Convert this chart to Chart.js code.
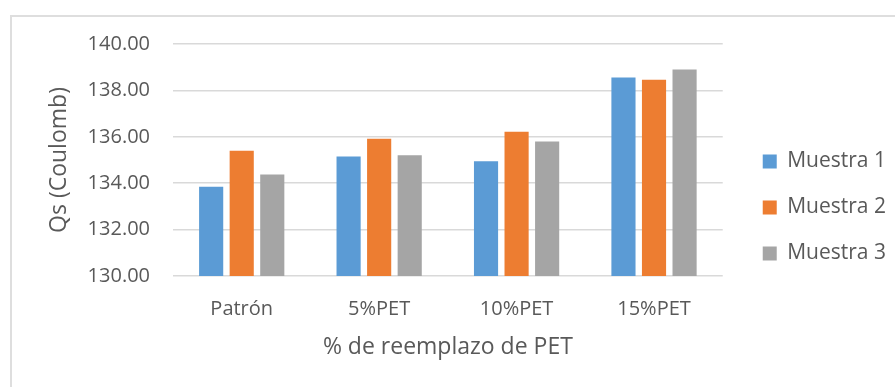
<!DOCTYPE html>
<html>
<head>
<meta charset="utf-8">
<script src="https://cdn.jsdelivr.net/npm/chart.js@4"></script>
<style>
  body { margin: 0; background: #fff; overflow: hidden; }
  #wrap { position: relative; width: 895px; height: 387px; }
  #frame {
    position: absolute; left: 10px; top: 15px; width: 1000px; height: 1000px;
    border-top: 2px solid #dedede; border-left: 2px solid #dedede;
  }
  canvas { position: absolute; left: 0; top: 0; }
</style>
</head>
<body>
<div id="wrap">
  <div id="frame"></div>
  <canvas id="qsChart" width="895" height="387"></canvas>
</div>
<script>
const categories = ["Patrón", "5%PET", "10%PET", "15%PET"];
const muestra1 = [133.85, 135.15, 134.95, 138.56];
const muestra2 = [135.4, 135.92, 136.22, 138.46];
const muestra3 = [134.38, 135.2, 135.8, 138.9];
const seriesNames = ["Muestra 1", "Muestra 2", "Muestra 3"];

const TEXT = "#595959";
const FONT = "'Open Sans', sans-serif";

// legend needs a different x offset than its row spacing, so nudge it after layout
const legendNudge = {
  id: "legendNudge",
  afterLayout(chart) {
    const lg = chart.legend;
    const dx = 15, dy = -8;
    lg.left += dx; lg.right += dx;
    lg.top += dy; lg.bottom += dy;
  },
};

const ctx = document.getElementById("qsChart").getContext("2d");

new Chart(ctx, {
  type: "bar",
  data: {
    labels: categories,
    datasets: [
      { label: seriesNames[0], data: muestra1, backgroundColor: "#5B9BD5" },
      { label: seriesNames[1], data: muestra2, backgroundColor: "#ED7D31" },
      { label: seriesNames[2], data: muestra3, backgroundColor: "#A5A5A5" },
    ],
  },
  options: {
    responsive: false,
    animation: false,
    datasets: {
      bar: { categoryPercentage: 0.667, barPercentage: 0.79 },
    },
    layout: { padding: { left: 0, top: 44, right: 14, bottom: 0 } },
    scales: {
      x: {
        grid: { display: false },
        border: { display: false },
        ticks: { color: TEXT, font: { family: FONT, size: 20 }, padding: 13 },
        title: {
          display: true,
          text: "% de reemplazo de PET",
          color: TEXT,
          font: { family: FONT, size: 23 },
          padding: { top: 0, bottom: 26 },
        },
        afterFit(scale) {
          scale.height = 111;
        },
      },
      y: {
        min: 130,
        max: 140,
        border: { display: false },
        grid: { color: "#d9d9d9", lineWidth: 1.5, drawTicks: false },
        ticks: {
          stepSize: 2,
          color: TEXT,
          font: { family: FONT, size: 20 },
          padding: 23,
          callback: (v) => v.toFixed(2),
        },
        title: {
          display: true,
          text: "Qs (Coulomb)",
          color: TEXT,
          font: { family: FONT, size: 23 },
          padding: { top: 46, bottom: 0 },
        },
        afterFit(scale) {
          scale.width = 173;
        },
      },
    },
    plugins: {
      legend: {
        position: "right",
        labels: {
          boxWidth: 14,
          boxHeight: 14,
          padding: 25,
          color: TEXT,
          font: { family: FONT, size: 21 },
        },
      },
      tooltip: { enabled: false },
    },
  },
  plugins: [legendNudge],
});
</script>
</body>
</html>
